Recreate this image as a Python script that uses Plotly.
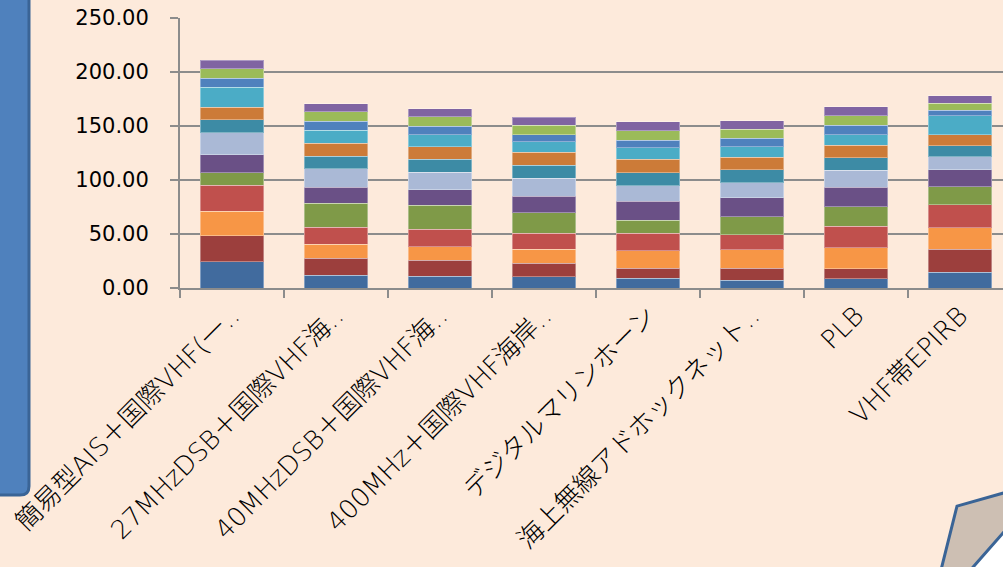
import plotly.graph_objects as go

categories = [
    "簡易型AIS＋国際VHF(一‥",
    "27MHzDSB＋国際VHF海‥",
    "40MHzDSB＋国際VHF海‥",
    "400MHz＋国際VHF海岸‥",
    "デジタルマリンホーン",
    "海上無線アドホックネット‥",
    "PLB",
    "VHF帯EPIRB",
]

s01 = [24.1, 11.7, 10.9, 10.2, 9.2, 7.1, 8.7, 14.8]
s02 = [24.3, 15.7, 14.6, 12.7, 8.9, 11.1, 9.3, 21.3]
s03 = [22.9, 13.3, 12.9, 13.0, 16.6, 17.0, 19.4, 19.8]
s04 = [23.7, 15.4, 15.8, 14.8, 15.8, 13.9, 20.0, 21.0]
s05 = [11.5, 22.2, 22.2, 19.1, 12.3, 17.0, 18.0, 17.0]
s06 = [16.9, 14.8, 14.8, 15.1, 17.6, 17.3, 18.1, 15.4]
s07 = [20.4, 17.1, 16.0, 16.7, 14.5, 13.9, 15.5, 12.4]
s08 = [11.8, 11.7, 12.1, 12.1, 12.0, 12.0, 11.7, 9.8]
s09 = [11.6, 12.0, 11.7, 11.8, 12.3, 12.0, 11.7, 10.6]
s10 = [18.9, 12.4, 11.1, 10.1, 10.6, 9.6, 9.6, 17.5]
s11 = [8.0, 8.0, 7.7, 6.1, 7.0, 7.7, 8.6, 4.9]
s12 = [8.7, 8.7, 8.7, 9.0, 8.7, 8.6, 8.7, 6.5]
s13 = [8.3, 7.6, 7.7, 7.6, 8.3, 7.7, 8.7, 6.8]

series = [s01, s02, s03, s04, s05, s06, s07, s08, s09, s10, s11, s12, s13]
series_names = [f"系列{i}" for i in range(1, 14)]
colors = ["#416B9E", "#9C3F3D", "#F79646", "#C0504D", "#7F9A48", "#6A5086",
          "#AAB9D6", "#3D8BA5", "#CC7B38", "#4BACC6", "#4F81BD", "#9BBB59", "#8064A2"]

y_ticks = [0, 50, 100, 150, 200, 250]

W, H = 1003, 567
L, R, T, B = 180, 0, 18, 278.5
pw, ph = W - L - R, H - T - B

def px(x):
    return (x - L) / pw

def py(y):
    return (H - B - y) / ph

fig = go.Figure()
for vals, name, c in zip(series, series_names, colors):
    fig.add_trace(go.Bar(
        x=categories, y=vals, name=name,
        marker=dict(color=c, line=dict(color="rgba(255,255,255,0.35)", width=1)),
    ))

font_family = "DejaVu Sans, Noto Sans CJK JP, sans-serif"

# left blue panel with rounded bottom-right corner
r = 9
left_box = (f"M {px(-10)},{py(-5)} L {px(29)},{py(-5)} L {px(29)},{py(496 - r)} "
            f"Q {px(29)},{py(496)} {px(29 - r)},{py(496)} L {px(-10)},{py(496)} Z")
# page-curl decoration bottom-right
curl = (f"M {px(957)},{py(507)} L {px(1010)},{py(492)} L {px(1010)},{py(526)} "
        f"L {px(967)},{py(575)} L {px(940)},{py(575)} Z")
white = f"M {px(1010)},{py(526)} L {px(1010)},{py(575)} L {px(967)},{py(575)} Z"

fig.update_layout(
    width=W, height=H,
    barmode="stack",
    bargap=0.385,
    showlegend=False,
    paper_bgcolor="#FDEADB",
    plot_bgcolor="#FDEADB",
    margin=dict(l=L, r=R, t=T, b=B, pad=0),
    font=dict(family=font_family, color="#000000"),
    shapes=[
        dict(type="path", path=left_box, xref="paper", yref="paper",
             fillcolor="#4F81BD", line=dict(color="#3A6496", width=3), layer="above"),
        dict(type="path", path=white, xref="paper", yref="paper",
             fillcolor="#FFFFFF", line=dict(width=0), layer="above"),
        dict(type="path", path=curl, xref="paper", yref="paper",
             fillcolor="#CDBFB3", line=dict(color="#3A6496", width=3), layer="above"),
    ],
    xaxis=dict(
        type="category",
        range=[-0.5, (W - L) / 104 - 0.5],
        tickangle=-45,
        tickfont=dict(size=26, family=font_family, weight=300),
        ticks="outside", tickson="boundaries", ticklen=8, tickwidth=2, tickcolor="#8C8C8C",
        showline=True, linecolor="#8C8C8C", linewidth=2,
        showgrid=False,
    ),
    yaxis=dict(
        range=[0, 250],
        tickvals=y_ticks,
        ticktext=[f"{v:.2f}" for v in y_ticks],
        tickfont=dict(size=21, family=font_family),
        ticks="outside", ticklen=8, tickwidth=2, tickcolor="#8C8C8C",
        ticklabelstandoff=17,
        showline=True, linecolor="#8C8C8C", linewidth=2,
        showgrid=True, gridcolor="#8C8C8C", gridwidth=2,
        zeroline=False,
    ),
)

fig.write_html("out.html")
